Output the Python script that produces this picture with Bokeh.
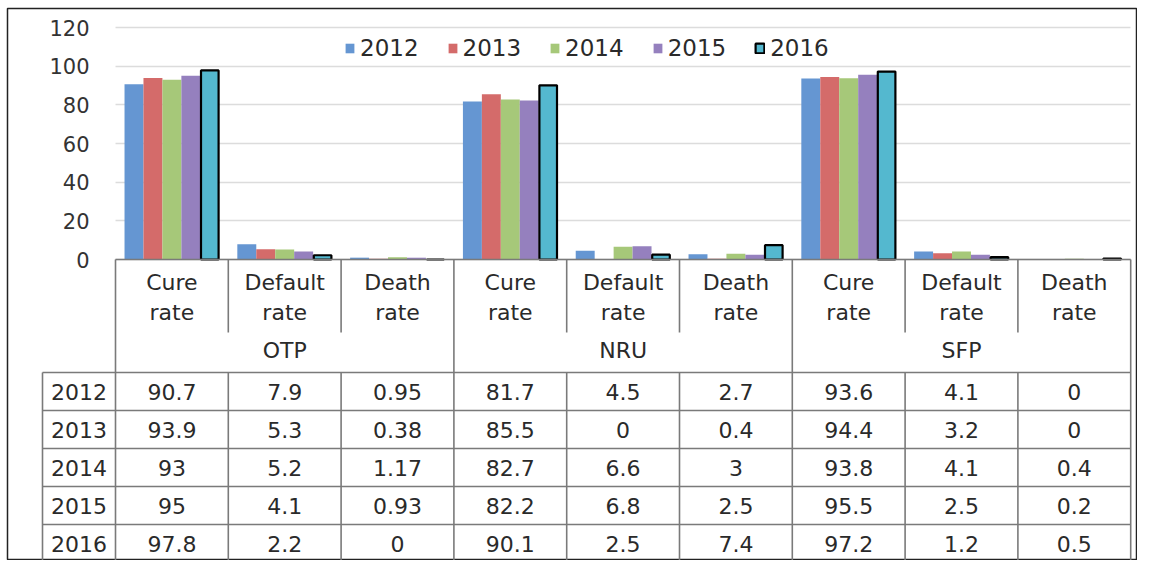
from bokeh.plotting import figure
from bokeh.models import (ColumnDataSource, LinearAxis, FixedTicker, Range1d,
                          Legend, LegendItem, Grid)
from bokeh.core.properties import value
from bokeh.embed import file_html
from bokeh.resources import INLINE

# ---------------- data ----------------
GROUPS = ["OTP", "NRU", "SFP"]
MEASURES = ["Cure rate", "Default rate", "Death rate"]
YEARS = ["2012", "2013", "2014", "2015", "2016"]
Y2012 = [90.7, 7.9, 0.95, 81.7, 4.5, 2.7, 93.6, 4.1, 0]
Y2013 = [93.9, 5.3, 0.38, 85.5, 0, 0.4, 94.4, 3.2, 0]
Y2014 = [93, 5.2, 1.17, 82.7, 6.6, 3, 93.8, 4.1, 0.4]
Y2015 = [95, 4.1, 0.93, 82.2, 6.8, 2.5, 95.5, 2.5, 0.2]
Y2016 = [97.8, 2.2, 0, 90.1, 2.5, 7.4, 97.2, 1.2, 0.5]
SERIES = [Y2012, Y2013, Y2014, Y2015, Y2016]
Y_TICKS = [0, 20, 40, 60, 80, 100, 120]

COLORS = ["#6596d2", "#d46b6a", "#a6c879", "#9580be", "#54b8cf"]

# ---------------- layout ----------------
W, H = 1137, 560
BL, BT = 7, 8               # border offsets of the frame
FW, FH = W - BL, H - BT     # frame size
FONT = "DejaVu Sans"
FS = "22px"
TXT = "#2a2a2a"
LINE = "#7a7a7a"
PX0 = 108.0      # frame px of category 0 left edge
CW = 112.8       # px per category
Y0 = 251.0       # frame px (from top) of value 0
PPU = 1.9333     # px per value unit

NCAT = len(GROUPS) * len(MEASURES)


def dy(px):
    """px below the value-0 line -> data units"""
    return -px / PPU


p = figure(width=W, height=H, output_backend="svg", toolbar_location=None,
           x_range=Range1d(-PX0 / CW, (FW - PX0) / CW),
           y_range=Range1d(-(FH - Y0) / PPU, Y0 / PPU),
           x_axis_type=None, y_axis_type=None,
           min_border_left=BL, min_border_top=BT, min_border_right=0, min_border_bottom=0)
p.xgrid.visible = False
p.ygrid.visible = False
p.outline_line_color = "#222222"
p.outline_line_width = 1.5
p.background_fill_color = "white"
p.border_fill_color = "white"

# y axis drawn inside the frame at x = 0
ticker = FixedTicker(ticks=Y_TICKS)
ax = LinearAxis(ticker=ticker, fixed_location=0, bounds=(0, 120))
ax.axis_line_color = None
ax.major_tick_line_color = None
ax.minor_tick_line_color = None
ax.major_label_standoff = 20
ax.major_label_text_font = FONT
ax.major_label_text_font_size = "21px"
ax.major_label_text_color = "#333333"
p.add_layout(ax, "left")

# grid
if "cross_bounds" in Grid.properties():
    g = Grid(dimension=1, ticker=ticker, bounds=(0, 120), cross_bounds=(0, NCAT),
             grid_line_color="#dcdcdc", grid_line_width=1.5)
    p.add_layout(g)
else:
    p.segment(x0=[0] * len(Y_TICKS), x1=[NCAT] * len(Y_TICKS), y0=Y_TICKS, y1=Y_TICKS,
              line_color="#dcdcdc", line_width=1.5)

# bars
BW = 0.168
items = []
for j, (yr, vals) in enumerate(zip(YEARS, SERIES)):
    xs = [i + 0.5 + (j - 2) * BW for i in range(NCAT)]
    src = ColumnDataSource(dict(x=xs, top=vals))
    if j == len(YEARS) - 1:
        r = p.vbar(x="x", top="top", bottom=0, width=BW - 0.012, source=src,
                   fill_color=COLORS[j], line_color="black", line_width=2.2)
    else:
        r = p.vbar(x="x", top="top", bottom=0, width=BW, source=src,
                   fill_color=COLORS[j], line_color=None)
    items.append(LegendItem(label=yr, renderers=[r]))

leg = Legend(items=items, orientation="horizontal", location=(337, 499))
leg.label_text_font = FONT
leg.label_text_font_size = "23px"
leg.label_text_color = TXT
leg.glyph_width = 11
leg.glyph_height = 12
leg.label_standoff = 5
leg.spacing = 28
leg.padding = 2
leg.border_line_color = None
leg.background_fill_alpha = 0
p.add_layout(leg)

# ---------------- data table ----------------
ROW_H = 38
HDR_BOT = 113
ROW_LEFT = -73 / CW
rows_y_px = [HDR_BOT + k * ROW_H for k in range(len(YEARS) + 1)]
bottom_y = dy(HDR_BOT + (len(YEARS) + 1) * ROW_H)

x0s, x1s, y0s, y1s = [], [], [], []
# top line of header (axis line)
x0s.append(0); x1s.append(NCAT); y0s.append(0); y1s.append(0)
# horizontal row lines
for ypx in rows_y_px:
    x0s.append(ROW_LEFT); x1s.append(NCAT); y0s.append(dy(ypx)); y1s.append(dy(ypx))
# vertical lines
for i in range(NCAT + 1):
    if i % len(MEASURES) == 0:
        x0s.append(i); x1s.append(i); y0s.append(0); y1s.append(bottom_y)
    else:
        x0s.append(i); x1s.append(i); y0s.append(0); y1s.append(dy(73))
        x0s.append(i); x1s.append(i); y0s.append(dy(HDR_BOT)); y1s.append(bottom_y)
x0s.append(ROW_LEFT); x1s.append(ROW_LEFT); y0s.append(dy(HDR_BOT)); y1s.append(bottom_y)
p.segment(x0=x0s, x1=x1s, y0=y0s, y1=y1s, line_color=LINE, line_width=1.6)

text_kw = dict(text_font=value(FONT), text_font_size=FS, text_color=TXT,
               text_align="center", text_baseline="middle")

# measure labels (two lines)
mx, l1, l2 = [], [], []
for i in range(NCAT):
    a, b = MEASURES[i % len(MEASURES)].split()
    mx.append(i + 0.5); l1.append(a); l2.append(b)
p.text(x=mx, y=[dy(23)] * NCAT, text=l1, **text_kw)
p.text(x=mx, y=[dy(53)] * NCAT, text=l2, **text_kw)
# group labels
gx = [k * len(MEASURES) + len(MEASURES) / 2 for k in range(len(GROUPS))]
p.text(x=gx, y=[dy(91)] * len(GROUPS), text=GROUPS, **text_kw)

# row labels and values
row_y = [dy(HDR_BOT + k * ROW_H + ROW_H / 2) for k in range(len(YEARS))]
p.text(x=[ROW_LEFT / 2] * len(YEARS), y=row_y, text=YEARS, **text_kw)
cx, cy, ct = [], [], []
for k, vals in enumerate(SERIES):
    for i, v in enumerate(vals):
        cx.append(i + 0.5); cy.append(row_y[k]); ct.append(f"{v:g}")
p.text(x=cx, y=cy, text=ct, **text_kw)

open("out.html", "w").write(file_html(p, INLINE))
